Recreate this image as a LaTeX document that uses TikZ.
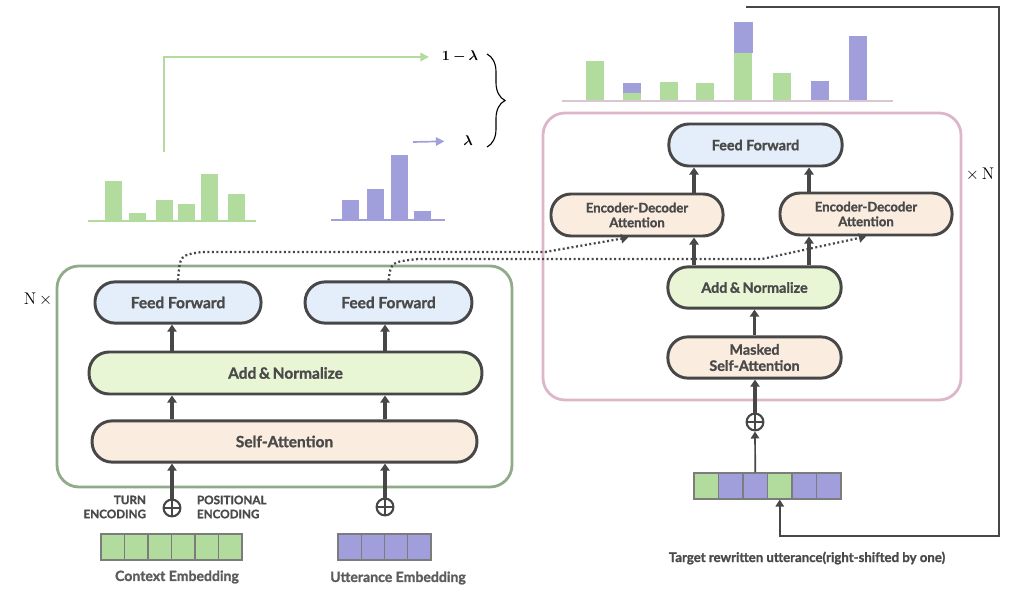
\documentclass[tikz,border=0pt]{standalone}
\usepackage{fontspec}
\usepackage{amsmath}
\usepackage{bm}
\setsansfont{Lato}[BoldFeatures={FakeBold=1.3}]
\usetikzlibrary{arrows.meta, positioning, decorations.pathreplacing, shapes.geometric}

\definecolor{boxline}{HTML}{474747}
\definecolor{txtgray}{HTML}{4A4A4A}
\definecolor{ffblue}{HTML}{E4EEFA}
\definecolor{angreen}{HTML}{E8F6D6}
\definecolor{sapeach}{HTML}{FBECE0}
\definecolor{encframe}{HTML}{8FAB8A}
\definecolor{decframe}{HTML}{DDB6CA}
\definecolor{barG}{HTML}{B1DC9E}
\definecolor{barP}{HTML}{A19EDC}
\definecolor{cellgray}{HTML}{7C7C7C}
\definecolor{mixbase}{HTML}{D9C6D3}

\tikzset{
    block/.style={draw=boxline, line width=2.1pt, rounded corners=0.5cm, inner sep=0pt,
                  font=\sffamily\bfseries, text=txtgray, align=center},
    ff/.style={block, fill=ffblue},
    addnorm/.style={block, fill=angreen},
    attn/.style={block, fill=sapeach},
    upArr/.style={draw=boxline, line width=2.2pt, -{Triangle[length=5pt,width=6.5pt]}},
    dotArr/.style={draw=boxline, line width=1.6pt, dash pattern=on 1.4pt off 1.8pt,
                   -{Triangle[length=5pt,width=6.5pt]}},
    oplus/.style={circle, draw=boxline, line width=1.5pt, minimum size=0.42cm, inner sep=0pt,
                  path picture={\draw[boxline, line width=1.5pt]
                      (path picture bounding box.north) -- (path picture bounding box.south)
                      (path picture bounding box.west) -- (path picture bounding box.east);}},
    cell/.style={draw=cellgray, line width=0.8pt, minimum height=0.65cm, inner sep=0pt},
    lbl/.style={font=\sffamily\bfseries, text=txtgray},
}

\begin{document}
\begin{tikzpicture}[x=0.025cm, y=-0.025cm]
    \useasboundingbox (0,0) rectangle (1016,603);

    % encoder
    \draw[encframe, line width=2pt, rounded corners=0.55cm] (57,266) rectangle (512,487);
    \node[ff, minimum width=4.15cm, minimum height=1.03cm, font=\sffamily\bfseries\fontsize{11}{13}\selectfont] (ffL) at (178,302.5) {Feed Forward};
    \node[ff, minimum width=4.17cm, minimum height=1.03cm, font=\sffamily\bfseries\fontsize{11}{13}\selectfont] (ffR) at (388.5,302.5) {Feed Forward};
    \node[addnorm, minimum width=9.82cm, minimum height=1.05cm, font=\sffamily\bfseries\fontsize{11}{13}\selectfont] (anE) at (285.5,373) {Add\,\&\,Normalize};
    \node[attn, minimum width=9.62cm, minimum height=1.03cm, font=\sffamily\bfseries\fontsize{11}{13}\selectfont] (saE) at (284.5,441.5) {Self-Attention};
    \node[font=\large] (nEnc) at (38,299) {N\,$\times$};

    \node[oplus] (plusC) at (172,508) {};
    \node[oplus] (plusU) at (385,507) {};
    \draw[upArr] (plusC.north) -- (saE.south -| plusC);
    \draw[upArr] (plusU.north) -- (saE.south -| plusU);
    \draw[upArr] (saE.north -| plusC) -- (anE.south -| plusC);
    \draw[upArr] (saE.north -| plusU) -- (anE.south -| plusU);
    \draw[upArr] (anE.north -| plusC) -- (ffL.south -| plusC);
    \draw[upArr] (anE.north -| plusU) -- (ffR.south -| plusU);

    \node[lbl, anchor=east, align=right, font=\sffamily\bfseries\fontsize{8.3}{10}\selectfont] (turnLbl) at (151,507) {TURN\\ENCODING};
    \node[lbl, anchor=west, align=left, font=\sffamily\bfseries\fontsize{8.3}{10}\selectfont] (posLbl) at (192,507) {POSITIONAL\\ENCODING};

    % embeddings
    \foreach \i in {0,...,5}
        \node[cell, fill=barG, minimum width=0.5875cm] (c\i) at (112.75+\i*23.5,547) {};
    \foreach \i in {0,...,3}
        \node[cell, fill=barP, minimum width=0.58cm] (u\i) at (349.6+\i*23.25,547) {};
    \node[lbl, font=\sffamily\bfseries\fontsize{10}{12}\selectfont, text=txtgray!90] (ctxLbl) at (177,577) {Context Embedding};
    \node[lbl, font=\sffamily\bfseries\fontsize{10}{12}\selectfont, text=txtgray!90] (uttLbl) at (398,578) {Utterance Embedding};

    % distributions
    \foreach \x/\h in {105/181, 129/213, 156/200, 178/204, 201/174, 228/194}
        \fill[barG] (\x,221) rectangle (\x+17,\h);
    \draw[barG, line width=1.2pt] (88,221) -- (256,221);
    \foreach \x/\h in {342/200, 367/189, 391/155, 414/211}
        \fill[barP] (\x,220) rectangle (\x+17,\h);
    \draw[barP, line width=1.2pt] (331,220) -- (445,220);

    \coordinate (histG) at (164,152);
    \coordinate (histU) at (413,142);
    \node[font=\fontsize{10}{12}\selectfont] (lamA) at (460,57) {$\bm{1-\lambda}$};
    \node[font=\fontsize{10}{12}\selectfont] (lamB) at (468,141) {$\bm{\lambda}$};
    \draw[barG, line width=1.2pt, -{Triangle[length=6pt,width=6pt]}] (histG) |- ([xshift=-0.2cm]lamA.west);
    \draw[barP, line width=1.2pt, -{Triangle[length=6pt,width=6pt]}, shorten >=0.35cm] (histU) -- (lamB.west);
    \draw[black, line width=0.8pt, decorate, decoration={brace, amplitude=0.45cm}] (487,54) -- (487,147);

    % mixed distribution
    \foreach \x/\h in {586/61, 623/93, 660/82, 696/83, 734/53, 773/73}
        \fill[barG] (\x,101) rectangle (\x+18,\h);
    \fill[barP] (623,93) rectangle (641,83);
    \fill[barP] (734,53) rectangle (753,22);
    \foreach \x/\h in {811/81, 849/36}
        \fill[barP] (\x,101) rectangle (\x+18,\h);
    \draw[mixbase, line width=1.2pt] (562,101) -- (893,101);

    % decoder
    \draw[decframe, line width=2pt, rounded corners=0.55cm] (543,113) rectangle (961,400);
    \node[ff, minimum width=4.33cm, minimum height=1.05cm, font=\sffamily\bfseries\fontsize{10.2}{12}\selectfont] (ffD) at (755.5,145) {Feed Forward};
    \node[attn, minimum width=4.3cm, minimum height=1.05cm, font=\sffamily\bfseries\fontsize{9.3}{10.5}\selectfont] (edL) at (637,215) {Encoder-Decoder\\Attention};
    \node[attn, minimum width=4.3cm, minimum height=1.05cm, font=\sffamily\bfseries\fontsize{9.3}{10.5}\selectfont] (edR) at (866,214) {Encoder-Decoder\\Attention};
    \node[addnorm, minimum width=4.33cm, minimum height=1.03cm, font=\sffamily\bfseries\fontsize{10.2}{12}\selectfont] (anD) at (754.5,287.5) {Add\,\&\,Normalize};
    \node[attn, minimum width=4.33cm, minimum height=1.03cm, font=\sffamily\bfseries\fontsize{10.2}{11.5}\selectfont] (msa) at (754.5,357.5) {Masked\\Self-Attention};
    \node[font=\large] (nDec) at (980,174) {$\times$\,N};

    \coordinate (colA) at (694,0);
    \coordinate (colB) at (809,0);
    \draw[upArr] (anD.north -| colA) -- (edL.south -| colA);
    \draw[upArr] (anD.north -| colB) -- (edR.south -| colB);
    \draw[upArr] (edL.north -| colA) -- (ffD.south -| colA);
    \draw[upArr] (edR.north -| colB) -- (ffD.south -| colB);
    \draw[upArr] (msa.north) -- (anD.south);

    \node[oplus] (plusD) at (755,422) {};
    \draw[upArr] (plusD.north) -- (msa.south -| plusD);

    % target sequence
    \foreach \c [count=\i] in {barG,barP,barP,barG,barP,barP}
        \node[cell, fill=\c, minimum width=0.6125cm] (t\i) at (681.75+\i*24.5,486) {};
    \draw[draw=boxline, line width=1.2pt, -{Triangle[length=5pt,width=6pt]}] (t3.north) -- (plusD.south);
    \node[lbl, font=\sffamily\bfseries\fontsize{9.4}{11}\selectfont] (tgtLbl) at (807,558) {Target rewritten utterance(right-shifted by one)};

    % feedback loop
    \coordinate (fbTop) at (746,7);
    \coordinate (fbCorner) at (999,536);
    \draw[boxline, line width=1.2pt, -{Triangle[length=5pt,width=6pt]}]
        (fbTop) -- (fbTop -| fbCorner) -- (fbCorner) -- (fbCorner -| t4) -- (t4.south);

    % encoder outputs into decoder
    \draw[dotArr] (ffL.north) .. controls (180,255) .. (202,252) -- (545,252) -- ([xshift=-0.22cm]edL.south);
    \draw[dotArr] (ffR.north) .. controls (391,262) .. (418,259) -- (762,259) -- (edR.south);
\end{tikzpicture}
\end{document}
